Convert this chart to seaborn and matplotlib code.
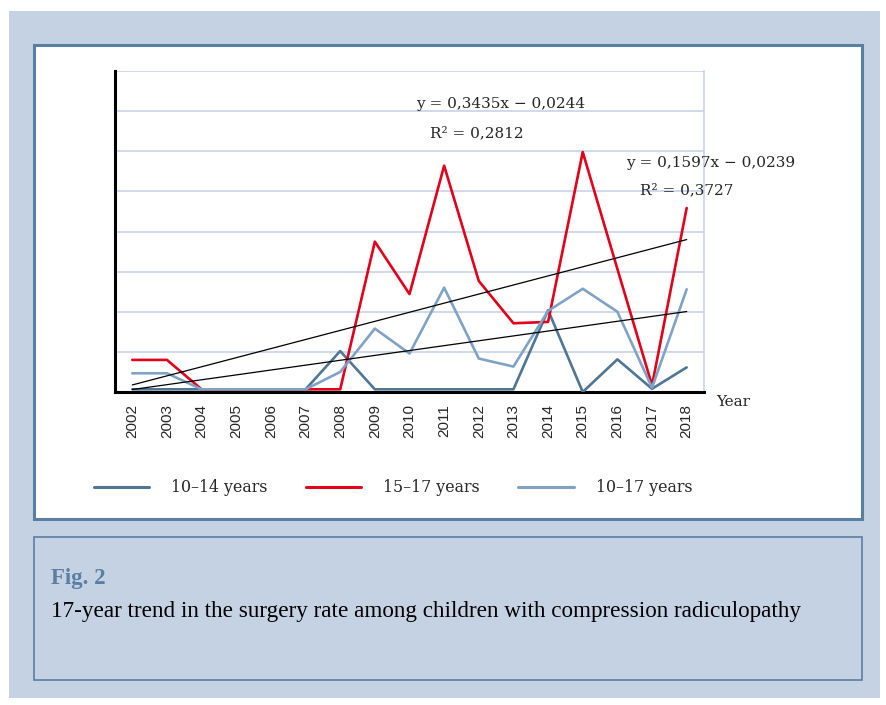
import numpy as np
import pandas as pd
import matplotlib
matplotlib.use("Agg")
import matplotlib.pyplot as plt
from matplotlib.patches import Rectangle
from matplotlib.lines import Line2D
import seaborn as sns

# ---- data -------------------------------------------------------------
years = [2002, 2003, 2004, 2005, 2006, 2007, 2008, 2009, 2010,
         2011, 2012, 2013, 2014, 2015, 2016, 2017, 2018]
age_10_14 = [0.1, 0.1, 0.1, 0.1, 0.1, 0.1, 1.53, 0.1, 0.1,
             0.1, 0.1, 0.1, 3.06, 0.0, 1.22, 0.12, 0.92]
age_15_17 = [1.2, 1.2, 0.1, 0.1, 0.1, 0.1, 0.1, 5.62, 3.66,
             8.46, 4.15, 2.57, 2.62, 8.97, 4.6, 0.25, 6.88]
age_10_17 = [0.7, 0.7, 0.1, 0.1, 0.1, 0.1, 0.75, 2.37, 1.44,
             3.9, 1.25, 0.95, 3.03, 3.86, 3.0, 0.16, 3.84]
series_names = ["10\u201314 years", "15\u201317 years", "10\u201317 years"]
trend_labels = [("y = 0,3435x \u2212 0,0244", "R\u00b2 = 0,2812"),
                ("y = 0,1597x \u2212 0,0239", "R\u00b2 = 0,3727")]
caption_title = "Fig. 2"
caption_text = ("17-year trend in the surgery rate among children "
                "with compression radiculopathy")

# ---- styling ----------------------------------------------------------
sns.set_style("white")
plt.rcParams["font.family"] = ["DejaVu Serif"]

BG = "#c5d2e3"
FRAME = "#5a7fa4"
GRID = "#c8d2e6"
colors = {"10\u201314 years": "#4f7695",
          "15\u201317 years": "#e2001a",
          "10\u201317 years": "#7fa2c5"}

W, H = 887, 705
fig = plt.figure(figsize=(W / 100, H / 100), dpi=100)
fig.patch.set_facecolor("white")


def fx(px):
    return px / W


def fy(py):
    return 1 - py / H


def box(x0, y0, x1, y1, face, edge=None, lw=0.0, z=0):
    fig.patches.append(Rectangle((fx(x0), fy(y1)), fx(x1) - fx(x0),
                                 fy(y0) - fy(y1), transform=fig.transFigure,
                                 facecolor=face, edgecolor=edge or face,
                                 linewidth=lw, zorder=z))


# page background, chart panel and caption box
box(9, 11, 880, 698, BG)
box(34, 45, 862, 519, "white", FRAME, 2.2, z=1)
box(34, 537, 862, 680, BG, FRAME, 1.2, z=1)

# ---- chart ------------------------------------------------------------
ax = fig.add_axes([fx(115), fy(392), fx(704) - fx(115), fy(71) - fy(392)])
ax.set_facecolor("white")
ax.set_zorder(2)

pos = np.arange(len(years))
df = pd.DataFrame({
    "pos": np.tile(pos, 3),
    "value": age_10_14 + age_15_17 + age_10_17,
    "series": np.repeat(series_names, len(years)),
})

sns.lineplot(data=df, x="pos", y="value", hue="series",
             hue_order=series_names, palette=colors, linewidth=1.9,
             legend=False, sort=False, ax=ax, zorder=3)

# linear trend lines for the 15-17 and 10-17 groups
for vals in (age_15_17, age_10_17):
    sns.regplot(x=pos, y=np.array(vals), scatter=False, ci=None,
                truncate=True, color="black",
                line_kws={"linewidth": 0.9, "zorder": 4}, ax=ax)

ax.set_xlim(-0.5, len(years) - 0.5)
ax.set_ylim(0, 12)
ax.set_yticks(np.arange(0, 12.01, 1.5))
ax.set_yticklabels([])
ax.yaxis.grid(True, color=GRID, linewidth=1.2)
ax.xaxis.grid(False)
ax.set_axisbelow(True)
ax.tick_params(axis="y", length=3, width=1.2, direction="out", color="black")

ax.set_xticks(pos)
ax.set_xticklabels([str(y) for y in years], rotation=90,
                   fontfamily="Liberation Sans", fontsize=11)
ax.set_xticks(np.arange(-0.5, len(years)), minor=True)
ax.tick_params(axis="x", which="major", length=0, pad=9)
ax.tick_params(axis="x", which="minor", length=7, width=2, color="black")
ax.set_xlabel("")
ax.set_ylabel("")

for side in ("left", "bottom"):
    ax.spines[side].set_color("black")
    ax.spines[side].set_linewidth(2.2)
ax.spines["top"].set_visible(False)
ax.spines["right"].set_color(GRID)
ax.spines["right"].set_linewidth(1.2)

# trend equations
eq_pos = [((416, 108), (430, 137)), ((626, 167), (640, 194))]
for (eq, r2), ((ex, ey), (rx, ry)) in zip(trend_labels, eq_pos):
    fig.text(fx(ex), fy(ey), eq, fontsize=11, va="baseline", zorder=5)
    fig.text(fx(rx), fy(ry), r2, fontsize=11, va="baseline", zorder=5)

fig.text(fx(716), fy(406), "Year", fontsize=11, va="baseline", zorder=5)

# legend
handles = [Line2D([], [], color=colors[n], linewidth=2.2) for n in series_names]
leg = fig.legend(handles, series_names, loc="center",
                 bbox_to_anchor=(fx(393), fy(488)), ncol=3, frameon=False,
                 prop={"family": "DejaVu Serif", "size": 11.4},
                 handlelength=3.5, handletextpad=1.4, columnspacing=2.4)
leg.set_zorder(5)

# caption
fig.text(fx(51), fy(584), caption_title, fontsize=16.5, fontweight="bold",
         fontfamily="Liberation Serif", color="#5a7fa4", va="baseline",
         zorder=5)
fig.text(fx(51), fy(617), caption_text, fontsize=16.7,
         fontfamily="Liberation Serif", color="black", va="baseline",
         zorder=5)

fig.savefig("out.png", dpi=100)
